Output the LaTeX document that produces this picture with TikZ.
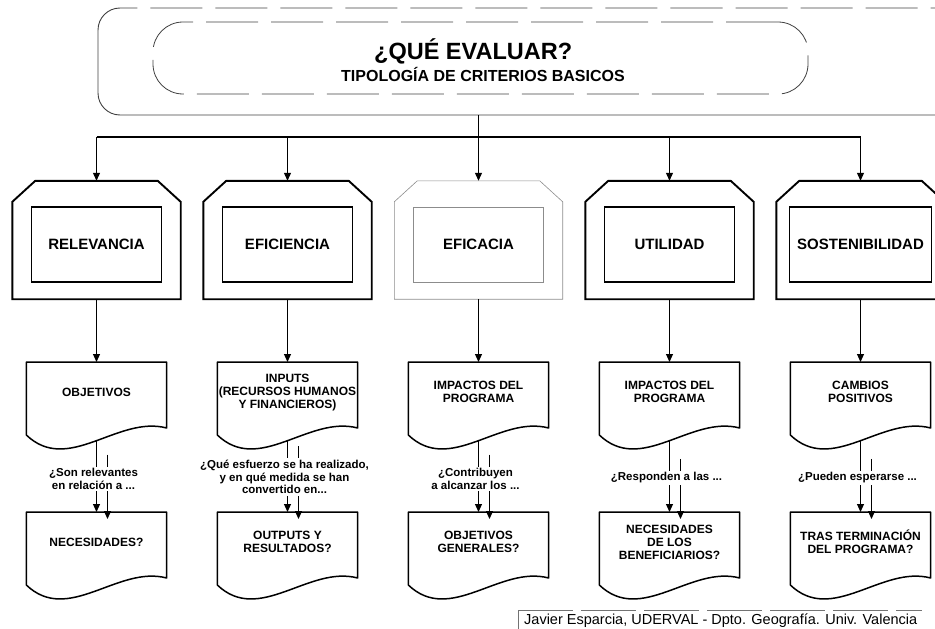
\documentclass[tikz,border=0pt]{standalone}
\usepackage{fontspec}
\setmainfont{Liberation Sans}
\usetikzlibrary{arrows.meta,calc}
\tikzset{
  ln/.style={line width=1.1pt, draw=black},
  arr/.style={line width=1.1pt, -{Triangle[length=8pt,width=7pt]}},
  octline/.style={line width=1.9pt, line join=miter},
  octlight/.style={line width=0.6pt, draw=black!45},
  octbox/.style={minimum width=168pt, minimum height=118pt, inner sep=0pt, draw=none},
  inbox/.style={draw, line width=1.7pt, minimum width=130pt, minimum height=75pt, inner sep=0pt, font=\fontsize{15}{17}\selectfont\bfseries},
  docbox/.style={minimum width=140pt, minimum height=60pt, inner sep=0pt, align=center, font=\fontsize{12}{13}\selectfont\bfseries, anchor=north},
  docline/.style={line width=1.5pt, line join=round},
  qlab/.style={align=center, inner sep=1.5pt, font=\fontsize{11.5}{12.8}\selectfont\bfseries},
  hdrin/.style={draw=black!75, line width=0.8pt, dash pattern=on 52pt off 13pt, rounded corners=30pt, minimum width=655pt, minimum height=72pt},
  hdrout/.style={draw=black!75, line width=0.9pt},
}
\newcommand\octa[4]{%
  \node[octbox] (#1) at (#2,240) {};
  \draw[octline,#4] (#1.south west) -- ($(#1.north west)+(0,21)$) -- ($(#1.north west)+(23,0)$) -- ($(#1.north east)+(-23,0)$) -- ($(#1.north east)+(0,21)$) -- (#1.south east) -- cycle;
  \node[inbox,#4] (#1i) at ($(#1.center)+(0,4.5)$) {#3};
}
\newcommand\docframe[1]{%
  \draw[docline] ($(#1.north west)+(0,73)$) -- (#1.north west) -- (#1.north east) -- ($(#1.north east)+(0,66)$) .. controls ($(#1.north east)+(-49,53)$) and ($(#1.north west)+(42,113)$) .. ($(#1.north west)+(0,73)$) -- cycle;
  \coordinate (#1w) at ($(#1.north)+(0,79)$);
}
\newcommand\colset[8]{%
  \coordinate (h#1) at (#2,137);
  \octa{o#1}{#2}{#3}{#4}
  \draw[arr] (h#1) -- (o#1.north);
  \node[docbox] (a#1) at (#2,362) {#5};
  \docframe{a#1}
  \draw[arr] (o#1.south) -- (a#1.north);
  \node[docbox] (b#1) at (#2,512) {#6};
  \docframe{b#1}
  \node[qlab] (q#1) at (#2-3,#8) {#7};
  \draw[ln] (a#1w) -- (a#1w |- q#1.north);
  \draw[ln] ($(a#1w |- q#1.north)+(11,-12)$) -- ($(a#1w |- q#1.north)+(11,0)$);
  \draw[arr] (a#1w |- q#1.south) -- (b#1.north);
  \draw[arr] ($(a#1w |- q#1.south)+(11,0)$) -- ($(b#1.north)+(11,7)$);
}
\begin{document}
\begin{tikzpicture}[x=1pt,y=-1pt]
\path[use as bounding box] (0,0) rectangle (935,629);
\clip (0,0) rectangle (935,629);
% header
\draw[hdrout, dash pattern=on 52pt off 13pt] (98,30) arc[start angle=180, end angle=270, radius=22] -- (960,8);
\draw[hdrout, rounded corners=22pt] (98,30) -- (98,115) -- (960,115);
\node[hdrin] (hdr) at (480.5,58) {};
\node[font=\fontsize{23.5}{26}\selectfont\bfseries, anchor=base west, inner sep=0pt] (t1) at (374,59) {¿QUÉ EVALUAR?};
\node[font=\fontsize{16}{18}\selectfont\bfseries, anchor=base west, inner sep=0pt] (t2) at (341,81) {TIPOLOGÍA DE CRITERIOS BASICOS};
\coordinate (hb) at (478.5,115);
% columns
\colset{1}{96.5}{RELEVANCIA}{}{OBJETIVOS}{NECESIDADES?}{¿Son relevantes\\en relación a ...}{479}
\colset{2}{287.5}{EFICIENCIA}{}{INPUTS\\(RECURSOS HUMANOS\\Y FINANCIEROS)}{OUTPUTS Y\\RESULTADOS?}{¿Qué esfuerzo se ha realizado,\\y en qué medida se han\\convertido en...}{477}
\colset{3}{478.5}{EFICACIA}{octlight}{IMPACTOS DEL\\PROGRAMA}{OBJETIVOS\\GENERALES?}{¿Contribuyen\\a alcanzar los ...}{479}
\colset{4}{669.5}{UTILIDAD}{}{IMPACTOS DEL\\PROGRAMA}{NECESIDADES\\DE LOS\\BENEFICIARIOS?}{¿Responden a las ...}{478}
\colset{5}{860.5}{SOSTENIBILIDAD}{minimum width=142pt}{CAMBIOS\\POSITIVOS}{TRAS TERMINACIÓN\\DEL PROGRAMA?}{¿Pueden esperarse ...}{478}
\draw[ln] (hb) -- (h3);
\draw[ln] (h1) -- (h5);
% footer
\coordinate (f1) at (518,610);
\coordinate (f2) at (922,610);
\coordinate (f3) at (518,629);
\draw[draw=black!55, line width=0.8pt, dash pattern=on 55pt off 8pt] (f1) -- (f2);
\draw[draw=black!55, line width=0.8pt] (f1) -- (f3);
\node[font=\fontsize{14.5}{16}\selectfont, anchor=west, inner sep=0pt] (foot) at (524,621) {Javier Esparcia, UDERVAL - Dpto. Geografía. Univ. Valencia};
\end{tikzpicture}
\end{document}
